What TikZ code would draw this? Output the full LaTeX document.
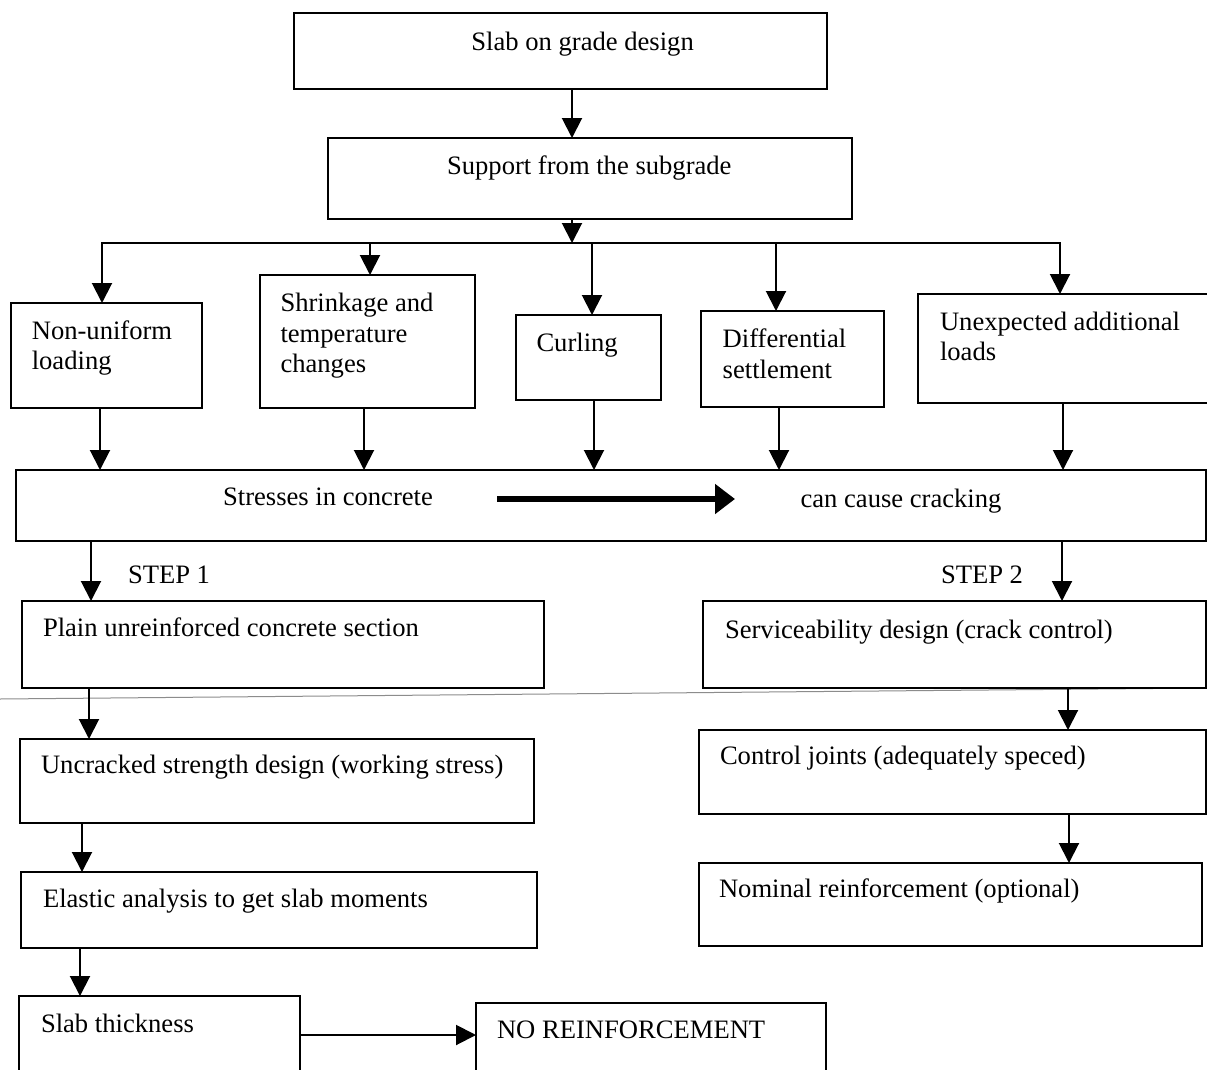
\documentclass[tikz,border=0pt]{standalone}
\usepackage{fontspec}
\setmainfont{Liberation Serif}
\usetikzlibrary{arrows.meta}
\begin{document}
\begin{tikzpicture}[x=1bp,y=-1bp,
  box/.style={draw, line width=2.2bp, inner sep=0pt, outer sep=0pt, anchor=north west},
  txt/.style={inner sep=0pt, outer sep=0pt, anchor=base west, font=\fontsize{26.6bp}{31bp}\selectfont},
  ctxt/.style={txt, anchor=base},
  arr/.style={line width=2bp, -{Triangle[length=20bp,width=20bp]}},
  bigarr/.style={line width=6bp, -{Triangle[length=20bp,width=29bp]}}]
\useasboundingbox (0,0) rectangle (1207,1070);
\fill[white] (0,0) rectangle (1207,1070);
% scan line
\draw[black!45, line width=1bp] (0,699) -- (1207,688);
% boxes
\node[box, minimum width=533bp, minimum height=76bp] (b1) at (294,13) {};
\node[box, minimum width=524bp, minimum height=81bp] (b2) at (328,138) {};
\node[box, minimum width=191bp, minimum height=105bp] (nu) at (11,303) {};
\node[box, minimum width=215bp, minimum height=133bp] (sh) at (260,275) {};
\node[box, minimum width=145bp, minimum height=85bp] (cu) at (516,315) {};
\node[box, minimum width=183bp, minimum height=96bp] (di) at (701,311) {};
\node[box, minimum width=300bp, minimum height=109bp] (ux) at (918,294) {};
\node[box, minimum width=1190bp, minimum height=71bp] (st) at (16,470) {};
\node[box, minimum width=522bp, minimum height=87bp] (pl) at (22,601) {};
\node[box, minimum width=503bp, minimum height=87bp] (se) at (703,601) {};
\node[box, minimum width=514bp, minimum height=84bp] (un) at (20,739) {};
\node[box, minimum width=507bp, minimum height=84bp] (co) at (699,730) {};
\node[box, minimum width=516bp, minimum height=76bp] (el) at (21,872) {};
\node[box, minimum width=503bp, minimum height=83bp] (no) at (699,863) {};
\node[box, minimum width=281bp, minimum height=90bp] (th) at (19,996) {};
\node[box, minimum width=350bp, minimum height=90bp] (nr) at (476,1003) {};
% texts
\node[ctxt] (t1) at (582.6,50) {Slab on grade design};
\node[ctxt] (t2) at (589.3,174) {Support from the subgrade};
\node[txt] (nu1) at (31.8,339) {Non-uniform};
\node[txt] (nu2) at (31.8,369) {loading};
\node[txt] (sh1) at (280.5,311) {Shrinkage and};
\node[txt] (sh2) at (280.5,342) {temperature};
\node[txt] (sh3) at (280.5,372) {changes};
\node[txt] (cu1) at (536.5,351) {Curling};
\node[txt] (di1) at (722.7,347) {Differential};
\node[txt] (di2) at (722.7,378) {settlement};
\node[txt] (ux1) at (940,330) {Unexpected additional};
\node[txt] (ux2) at (940,360) {loads};
\node[ctxt] (st1) at (328,505) {Stresses in concrete};
\node[ctxt] (st2) at (901,507) {can cause cracking};
\node[txt] (s1) at (128,583) {STEP 1};
\node[txt] (s2) at (941,583) {STEP 2};
\node[txt] (plt) at (43,636) {Plain unreinforced concrete section};
\node[txt] (set) at (725,638) {Serviceability design (crack control)};
\node[txt] (unt) at (41,773) {Uncracked strength design (working stress)};
\node[txt] (cot) at (720,764) {Control joints (adequately speced)};
\node[txt] (elt) at (43,907) {Elastic analysis to get slab moments};
\node[txt] (not) at (719,897) {Nominal reinforcement (optional)};
\node[txt] (tht) at (41,1032) {Slab thickness};
\node[txt] (nrt) at (497,1038) {NO REINFORCEMENT};
% helper coordinates
\coordinate (bus) at (0,243);
\coordinate (x572) at (572,0);
\coordinate (x102) at (102,0);
\coordinate (x370) at (370,0);
\coordinate (x592) at (592,0);
\coordinate (x776) at (776,0);
\coordinate (x1060) at (1060,0);
\coordinate (x100) at (100,0);
\coordinate (x364) at (364,0);
\coordinate (x594) at (594,0);
\coordinate (x779) at (779,0);
\coordinate (x1063) at (1063,0);
\coordinate (x91) at (91,0);
\coordinate (x1062) at (1062,0);
\coordinate (x89) at (89,0);
\coordinate (x1068) at (1068,0);
\coordinate (x82) at (82,0);
\coordinate (x1069) at (1069,0);
\coordinate (x80) at (80,0);
\coordinate (y1035) at (0,1035);
\coordinate (a1) at (497,499);
\coordinate (a2) at (735,499);
% connectors
\draw[arr] (x572 |- b1.south) -- (x572 |- b2.north);
\draw[arr] (x572 |- b2.south) -- (x572 |- bus);
\draw[arr] (x572 |- bus) -| (x102 |- nu.north);
\draw[arr] (x572 |- bus) -| (x1060 |- ux.north);
\draw[arr] (x370 |- bus) -- (x370 |- sh.north);
\draw[arr] (x592 |- bus) -- (x592 |- cu.north);
\draw[arr] (x776 |- bus) -- (x776 |- di.north);
\draw[arr] (x100 |- nu.south) -- (x100 |- st.north);
\draw[arr] (x364 |- sh.south) -- (x364 |- st.north);
\draw[arr] (x594 |- cu.south) -- (x594 |- st.north);
\draw[arr] (x779 |- di.south) -- (x779 |- st.north);
\draw[arr] (x1063 |- ux.south) -- (x1063 |- st.north);
\draw[bigarr] (a1) -- (a2);
\draw[arr] (x91 |- st.south) -- (x91 |- pl.north);
\draw[arr] (x1062 |- st.south) -- (x1062 |- se.north);
\draw[arr] (x89 |- pl.south) -- (x89 |- un.north);
\draw[arr] (x1068 |- se.south) -- (x1068 |- co.north);
\draw[arr] (x82 |- un.south) -- (x82 |- el.north);
\draw[arr] (x1069 |- co.south) -- (x1069 |- no.north);
\draw[arr] (x80 |- el.south) -- (x80 |- th.north);
\draw[arr] (th.east |- y1035) -- (nr.west |- y1035);
\end{tikzpicture}
\end{document}
